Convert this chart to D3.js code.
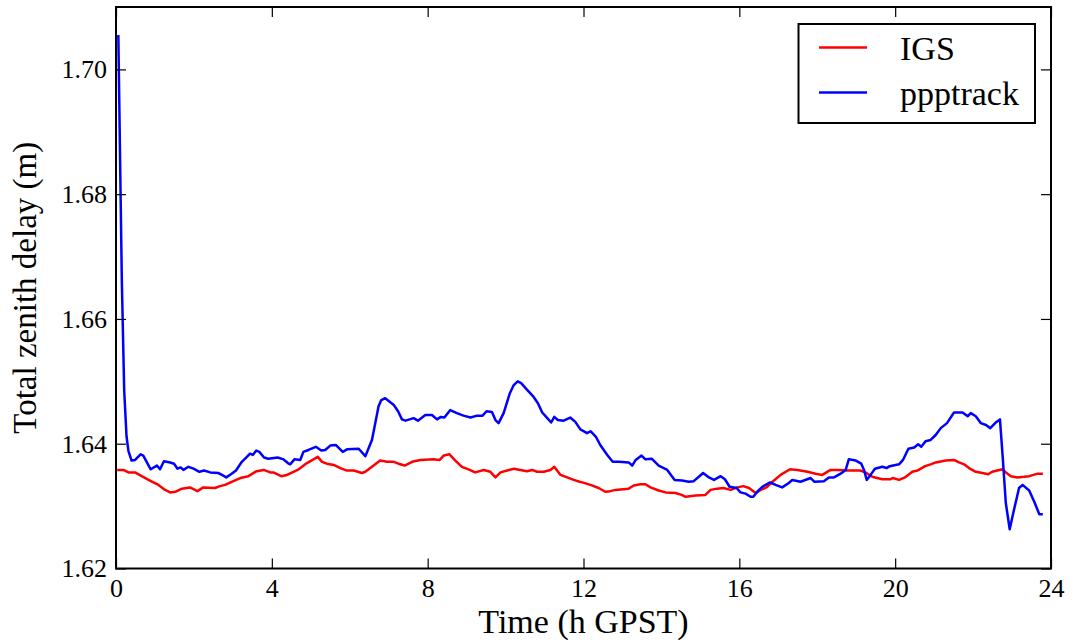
<!DOCTYPE html>
<html>
<head>
<meta charset="utf-8">
<title>Total zenith delay</title>
<script src="https://d3js.org/d3.v7.min.js"></script>
</head>
<body style="margin:0">
<div id="chart"></div>
<script>
    // IGS reference series (hours, metres)
    let igsHours = [0.03, 0.19, 0.32, 0.49, 0.66, 0.87, 1.09, 1.26, 1.39, 1.52, 1.69, 1.90, 2.09, 2.24, 2.54, 2.67, 2.80, 2.97, 3.19, 3.40, 3.61, 3.79, 3.96,
        4.04, 4.24, 4.39, 4.69, 4.90, 5.07, 5.18, 5.29, 5.41, 5.59, 5.76, 5.93, 6.10, 6.21, 6.31, 6.40, 6.57, 6.78, 6.96, 7.13, 7.25, 7.41, 7.60, 7.81,
        8.15, 8.31, 8.41, 8.56, 8.71, 8.88, 9.05, 9.22, 9.44, 9.61, 9.74, 9.87, 10.04, 10.21, 10.38, 10.55, 10.68, 10.81, 10.98, 11.15, 11.25, 11.41, 11.58, 11.75, 11.90,
        11.97, 12.18, 12.39, 12.56, 12.69, 12.82, 13.16, 13.29, 13.46, 13.59, 13.72, 13.93, 14.11, 14.36, 14.52, 14.62, 14.88, 15.13, 15.26, 15.43, 15.59, 15.78,
        15.95, 16.10, 16.25, 16.42, 16.55, 16.70, 16.85, 17.06, 17.30, 17.49, 17.75, 17.96, 18.13, 18.34, 18.56, 18.77, 19.10, 19.24, 19.41, 19.67, 19.87,
        19.94, 20.10, 20.25, 20.44, 20.57, 20.77, 20.91, 21.04, 21.30, 21.51, 21.64, 21.77, 21.92, 22.07, 22.24, 22.39, 22.49, 22.62, 22.76, 22.86, 22.97,
        23.14, 23.31, 23.44, 23.66, 23.79];
    let igsValues = [1.6358, 1.6358, 1.6354, 1.6354, 1.6348, 1.6341, 1.6334, 1.6326, 1.6322, 1.6323, 1.6328, 1.6330, 1.6324, 1.6330, 1.6329, 1.6332, 1.6334, 1.6339, 1.6345, 1.6348, 1.6356, 1.6358, 1.6354,
        1.6354, 1.6348, 1.6350, 1.6359, 1.6369, 1.6375, 1.6379, 1.6371, 1.6368, 1.6366, 1.6361, 1.6357, 1.6357, 1.6355, 1.6353, 1.6355, 1.6363, 1.6373, 1.6371, 1.6371, 1.6368, 1.6365, 1.6371, 1.6374,
        1.6375, 1.6374, 1.6381, 1.6383, 1.6373, 1.6363, 1.6359, 1.6354, 1.6358, 1.6355, 1.6346, 1.6354, 1.6357, 1.6360, 1.6358, 1.6356, 1.6358, 1.6355, 1.6355, 1.6358, 1.6363, 1.6350, 1.6346, 1.6342, 1.6339,
        1.6338, 1.6334, 1.6329, 1.6323, 1.6324, 1.6326, 1.6328, 1.6333, 1.6335, 1.6335, 1.6330, 1.6325, 1.6322, 1.6321, 1.6318, 1.6315, 1.6317, 1.6318, 1.6326, 1.6328, 1.6329, 1.6326,
        1.6330, 1.6332, 1.6329, 1.6321, 1.6326, 1.6330, 1.6339, 1.6350, 1.6359, 1.6358, 1.6355, 1.6352, 1.6350, 1.6358, 1.6358, 1.6357, 1.6357, 1.6354, 1.6347, 1.6343, 1.6343,
        1.6345, 1.6342, 1.6346, 1.6355, 1.6357, 1.6364, 1.6367, 1.6370, 1.6373, 1.6374, 1.6370, 1.6367, 1.6360, 1.6355, 1.6353, 1.6351, 1.6355, 1.6357, 1.6359, 1.6353, 1.6348,
        1.6346, 1.6347, 1.6348, 1.6352, 1.6352];

    // ppptrack solution
    let pppHours = [0.06, 0.12, 0.15, 0.21, 0.27, 0.32, 0.40, 0.49, 0.63, 0.70, 0.89, 1.05, 1.13, 1.23, 1.39, 1.49, 1.58, 1.66, 1.73, 1.86, 1.99, 2.14, 2.26, 2.42, 2.63, 2.72, 2.83, 2.95,
        3.08, 3.23, 3.36, 3.44, 3.51, 3.60, 3.68, 3.80, 3.91, 4.15, 4.30, 4.41, 4.47, 4.58, 4.73, 4.81, 4.94, 5.13, 5.27, 5.37, 5.50, 5.64, 5.82, 5.93, 6.23, 6.40,
        6.57, 6.74, 6.81, 6.91, 7.13, 7.24, 7.34, 7.43, 7.64, 7.75, 7.94, 8.11, 8.24, 8.34, 8.43, 8.58, 8.75, 8.92, 9.10, 9.27, 9.41, 9.51, 9.65, 9.74, 9.82, 9.95,
        10.11, 10.21, 10.31, 10.40, 10.53, 10.72, 10.83, 10.94, 11.07, 11.17, 11.25, 11.34, 11.49, 11.66, 11.79, 11.92, 12.09, 12.18, 12.32, 12.43, 12.61, 12.75,
        12.91, 13.16, 13.25, 13.34, 13.49, 13.59, 13.75, 13.93, 14.15, 14.34, 14.53, 14.70, 14.83, 14.96, 15.07, 15.22, 15.35, 15.52, 15.63, 15.75, 15.93,
        16.03, 16.16, 16.29, 16.36, 16.46, 16.59, 16.79, 16.93, 17.10, 17.27, 17.36, 17.57, 17.83, 17.93, 18.17, 18.30, 18.43, 18.60, 18.73, 18.81, 18.99,
        19.13, 19.20, 19.27, 19.37, 19.48, 19.67, 19.78, 19.86, 20.10, 20.20, 20.34, 20.49, 20.59, 20.67, 20.78, 20.91, 21.04, 21.17, 21.33, 21.51, 21.73,
        21.86, 21.94, 22.07, 22.20, 22.33, 22.44, 22.58, 22.69, 22.76, 22.84, 22.94, 23.05, 23.18, 23.27, 23.44, 23.57, 23.70, 23.79];
    let pppValues = [1.7055, 1.6790, 1.6660, 1.6486, 1.6412, 1.6388, 1.6373, 1.6374, 1.6383, 1.6381, 1.6359, 1.6365, 1.6359, 1.6372, 1.6370, 1.6368, 1.6360, 1.6362, 1.6358, 1.6363, 1.6360, 1.6355, 1.6357, 1.6354, 1.6353, 1.6350, 1.6346, 1.6351,
        1.6357, 1.6371, 1.6379, 1.6384, 1.6382, 1.6389, 1.6387, 1.6378, 1.6376, 1.6378, 1.6375, 1.6369, 1.6367, 1.6375, 1.6374, 1.6387, 1.6390, 1.6395, 1.6389, 1.6390, 1.6397, 1.6398, 1.6387, 1.6391, 1.6392, 1.6380,
        1.6406, 1.6460, 1.6470, 1.6473, 1.6462, 1.6452, 1.6439, 1.6437, 1.6441, 1.6437, 1.6446, 1.6446, 1.6439, 1.6443, 1.6442, 1.6454, 1.6449, 1.6445, 1.6442, 1.6445, 1.6445, 1.6452, 1.6451, 1.6438, 1.6433, 1.6449,
        1.6481, 1.6494, 1.6500, 1.6497, 1.6488, 1.6475, 1.6465, 1.6450, 1.6441, 1.6434, 1.6443, 1.6438, 1.6437, 1.6442, 1.6435, 1.6423, 1.6417, 1.6420, 1.6411, 1.6398, 1.6382, 1.6371,
        1.6371, 1.6370, 1.6365, 1.6374, 1.6381, 1.6375, 1.6376, 1.6365, 1.6358, 1.6342, 1.6341, 1.6339, 1.6340, 1.6347, 1.6353, 1.6346, 1.6342, 1.6348, 1.6343, 1.6331, 1.6329,
        1.6322, 1.6320, 1.6315, 1.6315, 1.6323, 1.6331, 1.6338, 1.6334, 1.6330, 1.6337, 1.6342, 1.6339, 1.6345, 1.6339, 1.6340, 1.6346, 1.6346, 1.6352, 1.6358, 1.6375, 1.6373,
        1.6368, 1.6358, 1.6342, 1.6350, 1.6360, 1.6363, 1.6361, 1.6364, 1.6367, 1.6374, 1.6392, 1.6394, 1.6399, 1.6395, 1.6404, 1.6406, 1.6414, 1.6425, 1.6433, 1.6450, 1.6450,
        1.6444, 1.6449, 1.6444, 1.6433, 1.6430, 1.6425, 1.6434, 1.6439, 1.6379, 1.6305, 1.6263, 1.6294, 1.6329, 1.6334, 1.6325, 1.6307, 1.6287, 1.6287];

    let xTicks = [0, 4, 8, 12, 16, 20, 24];
    let yTicks = [1.62, 1.64, 1.66, 1.68, 1.70];
    let seriesNames = ["IGS", "ppptrack"];
    let seriesColors = ["#ff0000", "#0000ff"];

    let W = 1073, H = 643;
    let plot = {left: 116, right: 1051, top: 7, bottom: 568.5};

    let svg = d3.select("#chart")
        .append("svg")
            .attr("width", W)
            .attr("height", H)
            .style("font-family", "Liberation Serif");

    let x = d3.scaleLinear().domain([0, 24]).range([plot.left, plot.right]);
    let y = d3.scaleLinear().domain([1.62, 1.71]).range([plot.bottom, plot.top]);

    let line = d3.line()
        .x(d => x(d[0]))
        .y(d => y(d[1]));

    let igs = igsHours.map((h, i) => [h, igsValues[i]]);
    let ppp = pppHours.map((h, i) => [h, pppValues[i]]);

    let lines = svg.append("g");
    [igs, ppp].forEach((data, i) => {
        lines.append("path")
            .datum(data)
            .attr("d", line)
            .attr("fill", "none")
            .attr("stroke", seriesColors[i])
            .attr("stroke-width", 2.5)
            .attr("stroke-linejoin", "round");
    });

    // inward ticks on all four sides, labels only left and bottom
    function styleAxis(g, showLabels) {
        g.select(".domain").remove();
        g.selectAll(".tick line").attr("stroke", "#000").attr("stroke-width", 1.2);
        g.selectAll(".tick text")
            .attr("fill", "#000")
            .style("font-family", "Liberation Serif")
            .style("font-size", "26px");
        if (!showLabels) g.selectAll(".tick text").remove();
    }

    svg.append("g")
        .attr("transform", `translate(0,${plot.bottom})`)
        .call(d3.axisBottom(x).tickValues(xTicks).tickSize(-10).tickPadding(10).tickFormat(d3.format("d")))
        .call(g => styleAxis(g, true));

    svg.append("g")
        .attr("transform", `translate(0,${plot.top})`)
        .call(d3.axisTop(x).tickValues(xTicks).tickSize(-10))
        .call(g => styleAxis(g, false));

    svg.append("g")
        .attr("transform", `translate(${plot.left},0)`)
        .call(d3.axisLeft(y).tickValues(yTicks).tickSize(-10).tickPadding(9).tickFormat(d3.format(".2f")))
        .call(g => styleAxis(g, true));

    svg.append("g")
        .attr("transform", `translate(${plot.right},0)`)
        .call(d3.axisRight(y).tickValues(yTicks).tickSize(-10))
        .call(g => styleAxis(g, false));

    svg.append("rect")
        .attr("x", plot.left).attr("y", plot.top)
        .attr("width", plot.right - plot.left).attr("height", plot.bottom - plot.top)
        .attr("fill", "none")
        .attr("stroke", "#000")
        .attr("stroke-width", 2);

    svg.append("text")
        .attr("x", (plot.left + plot.right) / 2)
        .attr("y", 633)
        .attr("text-anchor", "middle")
        .style("font-family", "Liberation Serif")
        .style("font-size", "34px")
        .text("Time (h GPST)");

    svg.append("text")
        .attr("transform", `translate(36,${(plot.top + plot.bottom) / 2}) rotate(-90)`)
        .attr("text-anchor", "middle")
        .style("font-family", "Liberation Serif")
        .style("font-size", "33px")
        .text("Total zenith delay (m)");

    let legend = svg.append("g");
    legend.append("rect")
        .attr("x", 798.5).attr("y", 24)
        .attr("width", 236.5).attr("height", 99)
        .attr("fill", "#fff")
        .attr("stroke", "#000")
        .attr("stroke-width", 2);

    seriesNames.forEach((name, i) => {
        let ly = 47.5 + i * 45;
        legend.append("line")
            .attr("x1", 819).attr("x2", 867)
            .attr("y1", ly).attr("y2", ly)
            .attr("stroke", seriesColors[i])
            .attr("stroke-width", 2.5);
        legend.append("text")
            .attr("x", 900)
            .attr("y", ly + 12)
            .style("font-family", "Liberation Serif")
            .style("font-size", "34px")
            .text(name);
    });
</script>
</body>
</html>
